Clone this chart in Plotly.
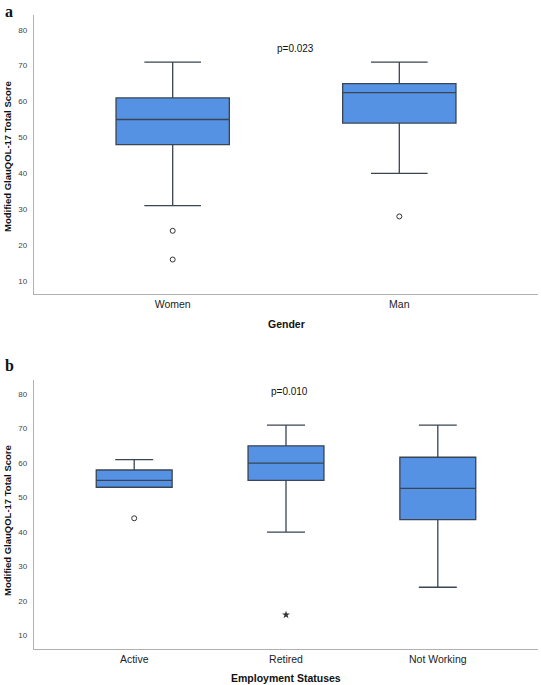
import plotly.graph_objects as go

# Panel a: Gender
gender_cats = ["Women", "Man"]
gender_q1 = [48, 54]
gender_median = [55, 62.5]
gender_q3 = [61, 65]
gender_low = [31, 40]
gender_high = [71, 71]
gender_out_x = ["Women", "Women", "Man"]
gender_out_y = [24, 16, 28]

# Panel b: Employment statuses
emp_cats = ["Active", "Retired", "Not Working"]
emp_q1 = [53, 55, 43.6]
emp_median = [55, 60, 52.7]
emp_q3 = [58, 65, 61.7]
emp_low = [53, 40, 24]
emp_high = [61, 71, 71]
emp_out_x = ["Active"]
emp_out_y = [44]
emp_ext_x = ["Retired"]
emp_ext_y = [16]

y_ticks = [10, 20, 30, 40, 50, 60, 70, 80]
p_values = ["p=0.023", "p=0.010"]

W, H = 541, 685
FILL = "#5592E4"
LINE = "#3a4452"

fig = go.Figure()

def box(cats, q1, med, q3, lo, hi, xa, ya):
    return go.Box(
        x=cats, q1=q1, median=med, q3=q3, lowerfence=lo, upperfence=hi,
        fillcolor=FILL, line=dict(color=LINE, width=1.3),
        whiskerwidth=0.5, width=0.5, boxpoints=False,
        xaxis=xa, yaxis=ya, showlegend=False, hoverinfo="skip",
    )

fig.add_trace(box(gender_cats, gender_q1, gender_median, gender_q3,
                  gender_low, gender_high, "x", "y"))
fig.add_trace(go.Scatter(x=gender_out_x, y=gender_out_y, mode="markers",
                         marker=dict(symbol="circle-open", size=5,
                                     color="#333", line=dict(width=1)),
                         xaxis="x", yaxis="y", showlegend=False))

fig.add_trace(box(emp_cats, emp_q1, emp_median, emp_q3,
                  emp_low, emp_high, "x2", "y2"))
fig.add_trace(go.Scatter(x=emp_out_x, y=emp_out_y, mode="markers",
                         marker=dict(symbol="circle-open", size=5,
                                     color="#333", line=dict(width=1)),
                         xaxis="x2", yaxis="y2", showlegend=False))
fig.add_trace(go.Scatter(x=emp_ext_x, y=emp_ext_y, mode="markers",
                         marker=dict(symbol="star", size=6,
                                     color="#333", line=dict(width=0)),
                         xaxis="x2", yaxis="y2", showlegend=False))

x0, x1 = 34 / W, 538 / W
ya_dom = [1 - 294 / H, 1 - 15 / H]
yb_dom = [1 - 649 / H, 1 - 380 / H]

axis_common = dict(showline=True, linecolor="#b0b0b0", linewidth=1.3,
                   showgrid=False, zeroline=False, ticks="",
                   fixedrange=True)

fig.update_layout(
    width=W, height=H,
    margin=dict(l=0, r=0, t=0, b=0),
    paper_bgcolor="white", plot_bgcolor="white",
    font=dict(family="Liberation Sans, Arial, sans-serif", color="#222"),
    xaxis=dict(domain=[x0, x1], anchor="y", type="category",
               categoryorder="array", categoryarray=gender_cats,
               range=[-0.612, 1.612],
               tickfont=dict(size=10.5, color="#222"), **axis_common),
    yaxis=dict(domain=ya_dom, anchor="x", range=[6.4, 84.1],
               tickvals=y_ticks, ticklabelstandoff=4,
               tickfont=dict(size=8, color="#444"), **axis_common),
    xaxis2=dict(domain=[x0, x1], anchor="y2", type="category",
                categoryorder="array", categoryarray=emp_cats,
                range=[-0.66, 2.66],
                tickfont=dict(size=10.5, color="#222"), **axis_common),
    yaxis2=dict(domain=yb_dom, anchor="x2", range=[6.1, 84.1],
                tickvals=y_ticks, ticklabelstandoff=4,
                tickfont=dict(size=8, color="#444"), **axis_common),
)

def ann(text, x, y, size, bold=False, angle=0, family=None, xanchor="center"):
    fig.add_annotation(
        text=f"<b>{text}</b>" if bold else text,
        x=x / W, y=1 - y / H, xref="paper", yref="paper",
        xanchor=xanchor, yanchor="middle", showarrow=False, textangle=angle,
        font=dict(size=size, color="#111",
                  family=family or "Liberation Sans, Arial, sans-serif"),
    )

ann("a", 3, 11, 16, bold=True, family="Liberation Serif, Times New Roman, serif", xanchor="left")
ann("b", 3, 366, 16, bold=True, family="Liberation Serif, Times New Roman, serif", xanchor="left")
ann(p_values[0], 295, 48, 10)
ann(p_values[1], 289, 392, 10)
ann("Gender", 286, 324, 10.5, bold=True)
ann("Employment Statuses", 286, 678, 10.5, bold=True)
ann("Modified GlauQOL-17 Total Score", 7, 157, 9.5, bold=True, angle=-90)
ann("Modified GlauQOL-17 Total Score", 7, 521, 9.5, bold=True, angle=-90)

fig.write_html("out.html")
